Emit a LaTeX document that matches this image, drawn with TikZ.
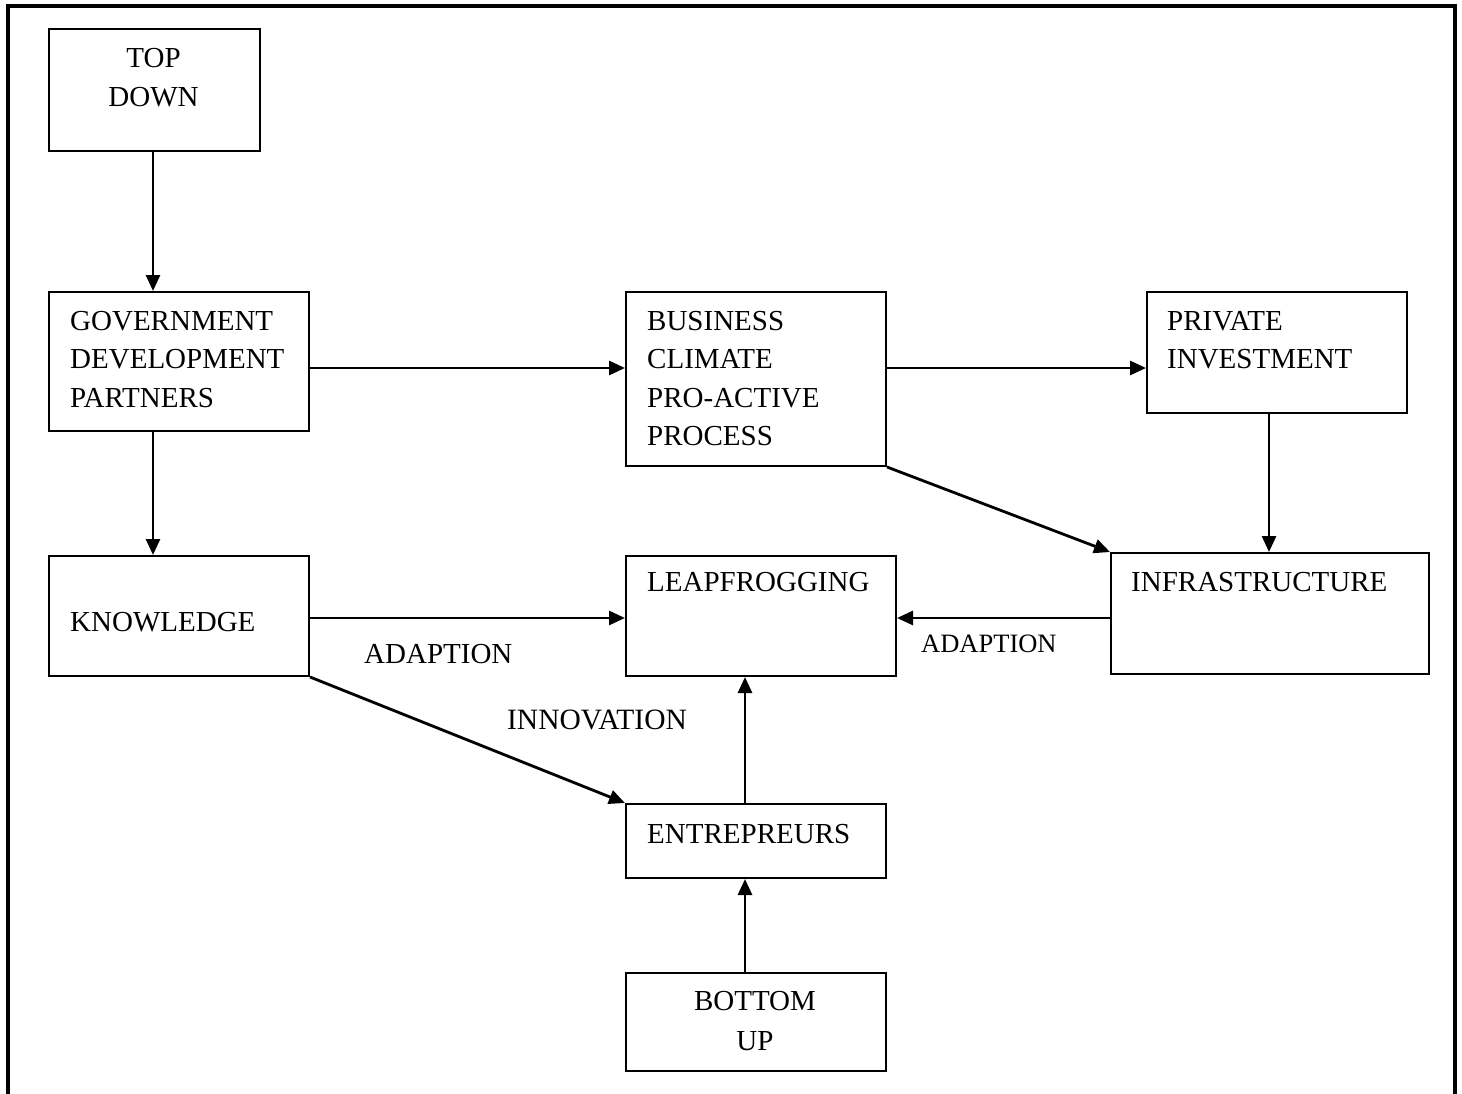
\documentclass[tikz,border=0pt]{standalone}
\usepackage{fontspec}
\setmainfont{Liberation Serif}
\usetikzlibrary{arrows.meta}
\begin{document}
\begin{tikzpicture}[x=1pt,y=-1pt,
  box/.style={draw, line width=2pt, inner sep=0pt, anchor=north west},
  txt/.style={anchor=base west, inner sep=0pt, font=\fontsize{29}{35}\selectfont},
  ctxt/.style={anchor=base, inner sep=0pt, font=\fontsize{29}{35}\selectfont},
  arr/.style={line width=2.8pt, -{Triangle[length=16pt,width=14pt]}}]
\useasboundingbox (0,0) rectangle (1462,1094);
% open frame
\draw[line width=4pt] (8,1096) -- (8,6) -- (1455,6) -- (1455,1096);

% boxes
\node[box, minimum width=211pt, minimum height=122pt] (top)   at (48,28)   {};
\node[box, minimum width=260pt, minimum height=139pt] (gov)   at (48,291)  {};
\node[box, minimum width=260pt, minimum height=174pt] (bus)   at (625,291) {};
\node[box, minimum width=260pt, minimum height=121pt] (priv)  at (1146,291) {};
\node[box, minimum width=260pt, minimum height=120pt] (know)  at (48,555)  {};
\node[box, minimum width=270pt, minimum height=120pt] (leap)  at (625,555) {};
\node[box, minimum width=318pt, minimum height=121pt] (infra) at (1110,552) {};
\node[box, minimum width=260pt, minimum height=74pt]  (entr)  at (625,803) {};
\node[box, minimum width=260pt, minimum height=98pt]  (bot)   at (625,972) {};

% box texts, one node per line
\node[ctxt] (ttop1) at (153.5,68)  {TOP};
\node[ctxt] (ttop2) at (153.5,107) {DOWN};
\node[txt] (tgov1) at (70,330)   {GOVERNMENT};
\node[txt] (tgov2) at (70,368.5) {DEVELOPMENT};
\node[txt] (tgov3) at (70,407)   {PARTNERS};
\node[txt] (tbus1) at (647,330)   {BUSINESS};
\node[txt] (tbus2) at (647,368.5) {CLIMATE};
\node[txt] (tbus3) at (647,407)   {PRO-ACTIVE};
\node[txt] (tbus4) at (647,445.5) {PROCESS};
\node[txt] (tpriv1) at (1167,330)   {PRIVATE};
\node[txt] (tpriv2) at (1167,368.5) {INVESTMENT};
\node[txt] (tknow)  at (70,631)   {KNOWLEDGE};
\node[txt] (tleap)  at (647,591)  {LEAPFROGGING};
\node[txt] (tinfra) at (1131,591) {INFRASTRUCTURE};
\node[txt] (tentr)  at (647,843)  {ENTREPREURS};
\node[ctxt] (tbot1) at (755,1010) {BOTTOM};
\node[ctxt] (tbot2) at (755,1050) {UP};

% connector labels
\node[txt] (ad1) at (364,663) {ADAPTION};
\node[txt, font=\fontsize{26.5}{32}\selectfont] (ad2) at (921,652) {ADAPTION};
\node[ctxt, font=\fontsize{29.5}{35}\selectfont] (inno) at (597,729) {INNOVATION};

% guide levels for the straight connectors
\coordinate (r1) at (0,368);
\coordinate (r2) at (0,618);
\coordinate (c1) at (153,0);
\coordinate (c2) at (745,0);
\coordinate (c3) at (1269,0);

% connectors
\draw[arr] (top.south -| c1) -- (gov.north -| c1);
\draw[arr] (gov.south -| c1) -- (know.north -| c1);
\draw[arr] (gov.east |- r1) -- (bus.west |- r1);
\draw[arr] (bus.east |- r1) -- (priv.west |- r1);
\draw[arr] (priv.south -| c3) -- (infra.north -| c3);
\draw[arr] (bus.south east) -- (infra.north west);
\draw[arr] (know.east |- r2) -- (leap.west |- r2);
\draw[arr] (infra.west |- r2) -- (leap.east |- r2);
\draw[arr] (know.south east) -- (entr.north west);
\draw[arr] (entr.north -| c2) -- (leap.south -| c2);
\draw[arr] (bot.north -| c2) -- (entr.south -| c2);
\end{tikzpicture}
\end{document}
